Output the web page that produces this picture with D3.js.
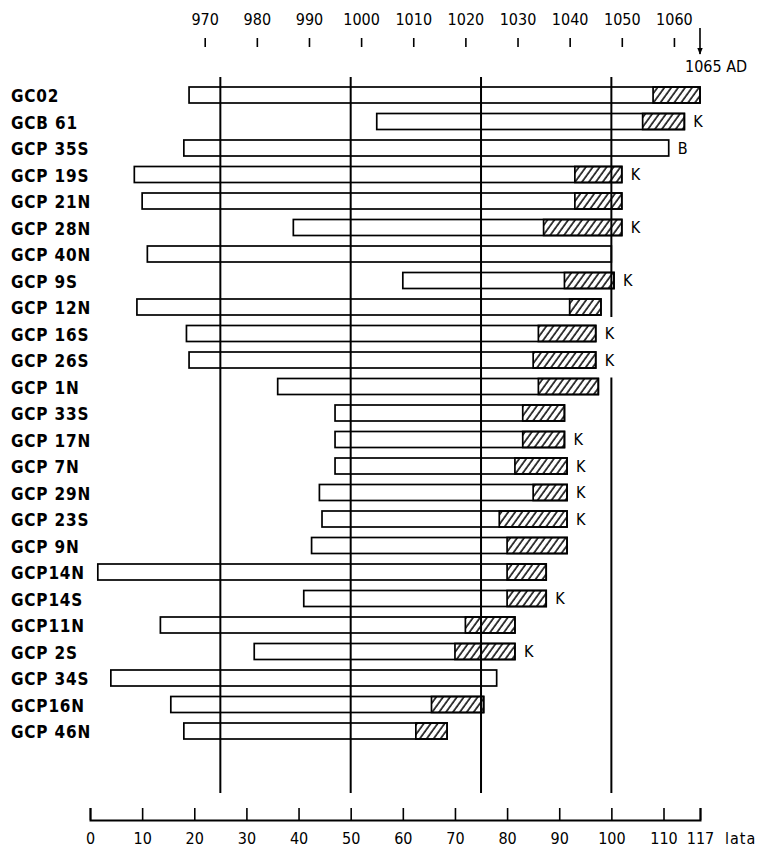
<!DOCTYPE html>
<html>
<head>
<meta charset="utf-8">
<title>GCP dendro chart</title>
<script src="https://cdn.jsdelivr.net/npm/d3@7"></script>
<style>
  body { margin: 0; background: #fff; }
  svg { display: block; }
  text { font-family: "DejaVu Sans Condensed", "DejaVu Sans", sans-serif; fill: #000; }
</style>
</head>
<body>
<div id="chart"></div>
<script>
const width = 759, height = 848;

// samples, top to bottom
const samples = ["GC02", "GCB 61", "GCP 35S", "GCP 19S", "GCP 21N", "GCP 28N", "GCP 40N",
  "GCP 9S", "GCP 12N", "GCP 16S", "GCP 26S", "GCP 1N", "GCP 33S", "GCP 17N", "GCP 7N",
  "GCP 29N", "GCP 23S", "GCP 9N", "GCP14N", "GCP14S", "GCP11N", "GCP 2S", "GCP 34S",
  "GCP16N", "GCP 46N"];
// ring years (lata) : first ring, start of sapwood (null = none), last ring
const startYr = [19, 55, 18, 8.5, 10, 39, 11, 60, 9, 18.5, 19, 36, 47, 47, 47, 44, 44.5, 42.5, 1.5, 41, 13.5, 31.5, 4, 15.5, 18];
const sapYr   = [108, 106, null, 93, 93, 87, null, 91, 92, 86, 85, 86, 83, 83, 81.5, 85, 78.5, 80, 80, 80, 72, 70, null, 65.5, 62.5];
const endYr   = [117, 114, 111, 102, 102, 102, 100, 100.5, 98, 97, 97, 97.5, 91, 91, 91.5, 91.5, 91.5, 91.5, 87.5, 87.5, 81.5, 81.5, 78, 75.5, 68.5];
const notes   = ["", "K", "B", "K", "", "K", "", "K", "", "K", "K", "", "", "K", "K", "K", "K", "", "", "K", "", "K", "", "", ""];

const refLines = [25, 50, 75, 100];
const lataTicks = [0, 10, 20, 30, 40, 50, 60, 70, 80, 90, 100, 110, 117];
const yearTicks = [970, 980, 990, 1000, 1010, 1020, 1030, 1040, 1050, 1060];
const lastYear = 1065;

const x = d3.scaleLinear().domain([0, 117]).range([90, 700]);
const xYear = d3.scaleLinear().domain([lastYear - 117, lastYear]).range(x.range());
const y = d3.scalePoint().domain(samples).range([95, 731]);
const barH = 16;

const svg = d3.select("#chart").append("svg")
  .attr("width", width)
  .attr("height", height);

const defs = svg.append("defs");
// hatching for sapwood
defs.append("pattern")
  .attr("id", "hatch")
  .attr("patternUnits", "userSpaceOnUse")
  .attr("width", 5.6).attr("height", 10)
  .attr("patternTransform", "rotate(36)")
  .append("line")
  .attr("x1", 1).attr("y1", -1).attr("x2", 1).attr("y2", 11)
  .attr("stroke", "#000").attr("stroke-width", 1.5);

defs.append("marker")
  .attr("id", "arrow")
  .attr("viewBox", "0 0 10 10")
  .attr("refX", 9).attr("refY", 5)
  .attr("markerWidth", 7).attr("markerHeight", 7)
  .attr("markerUnits", "userSpaceOnUse")
  .attr("orient", "auto")
  .append("path").attr("d", "M0,1L10,5L0,9Z").attr("fill", "#000");

const rows = samples.map((s, i) => ({ name: s, start: startYr[i], sap: sapYr[i], end: endYr[i], note: notes[i] }));

// labels
svg.append("g").selectAll("text")
  .data(rows).join("text")
  .attr("x", 11)
  .attr("y", d => y(d.name) + 1)
  .attr("dominant-baseline", "central")
  .attr("font-size", 17)
  .attr("font-weight", "bold")
  .attr("letter-spacing", 0.8)
  .text(d => d.name);

const bars = svg.append("g");
bars.selectAll("rect.wood")
  .data(rows).join("rect")
  .attr("class", "wood")
  .attr("x", d => x(d.start))
  .attr("y", d => y(d.name) - barH / 2)
  .attr("width", d => x(d.end) - x(d.start))
  .attr("height", barH)
  .attr("fill", "#fff").attr("stroke", "#000").attr("stroke-width", 1.7);

bars.selectAll("rect.sap")
  .data(rows.filter(d => d.sap != null)).join("rect")
  .attr("class", "sap")
  .attr("x", d => x(d.sap))
  .attr("y", d => y(d.name) - barH / 2)
  .attr("width", d => x(d.end) - x(d.sap))
  .attr("height", barH)
  .attr("fill", "url(#hatch)").attr("stroke", "#000").attr("stroke-width", 1.7);

bars.selectAll("text")
  .data(rows.filter(d => d.note)).join("text")
  .attr("x", d => x(d.end) + 9)
  .attr("y", d => y(d.name))
  .attr("dominant-baseline", "central")
  .attr("font-size", 16)
  .text(d => d.note);

// vertical reference lines (the 100 line breaks around the K marks of 16S / 26S)
const lineTop = 77, lineBottom = 793;
const gapFrom = y("GCP 12N") + barH / 2 + 2, gapTo = y("GCP 1N") - barH / 2 - 1;
const segs = [];
refLines.forEach(v => {
  if (v === 100) {
    segs.push({ v, y1: lineTop, y2: gapFrom });
    segs.push({ v, y1: gapTo, y2: lineBottom });
  } else {
    segs.push({ v, y1: lineTop, y2: lineBottom });
  }
});
svg.append("g").selectAll("line")
  .data(segs).join("line")
  .attr("x1", d => x(d.v)).attr("x2", d => x(d.v))
  .attr("y1", d => d.y1).attr("y2", d => d.y2)
  .attr("stroke", "#000").attr("stroke-width", 2);

// bottom axis, lata
const axisB = svg.append("g")
  .attr("transform", "translate(0,820)")
  .call(d3.axisBottom(x).tickValues(lataTicks).tickSize(-12).tickSizeOuter(-12).tickPadding(13));
axisB.attr("font-family", null);
axisB.select(".domain").attr("stroke-width", 2);
axisB.selectAll(".tick line").attr("stroke-width", 1.6);
axisB.selectAll("text").attr("font-size", 16);
axisB.append("text")
  .attr("x", x(117) + 25).attr("y", 13)
  .attr("dy", "0.71em")
  .attr("font-size", 16)
  .attr("letter-spacing", 1)
  .attr("text-anchor", "start")
  .attr("fill", "#000")
  .text("lata");

// top axis, calendar years
const axisT = svg.append("g")
  .attr("transform", "translate(0,47)")
  .call(d3.axisTop(xYear).tickValues(yearTicks).tickFormat(d3.format("d")).tickSize(9).tickPadding(13));
axisT.attr("font-family", null);
axisT.select(".domain").remove();
axisT.selectAll(".tick line").attr("stroke-width", 1.6);
axisT.selectAll("text").attr("font-size", 16);

svg.append("line")
  .attr("x1", xYear(lastYear)).attr("x2", xYear(lastYear))
  .attr("y1", 28).attr("y2", 54)
  .attr("stroke", "#000").attr("stroke-width", 1.6)
  .attr("marker-end", "url(#arrow)");
svg.append("text")
  .attr("x", xYear(lastYear) - 15).attr("y", 72)
  .attr("font-size", 16)
  .text(lastYear + " AD");
</script>
</body>
</html>
